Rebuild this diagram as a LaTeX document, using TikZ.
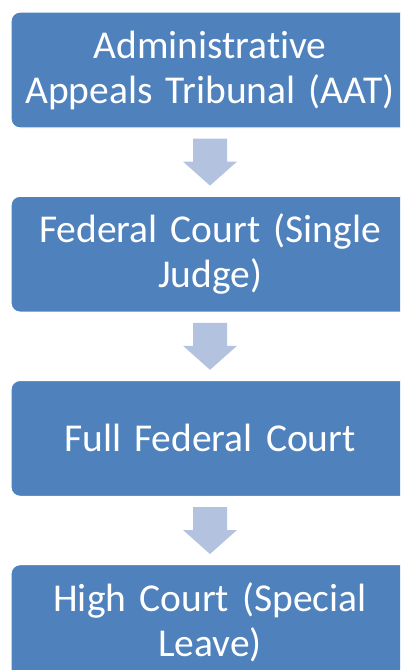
\documentclass[tikz,border=0pt]{standalone}
\usepackage{fontspec}
\setmainfont[Ligatures=NoCommon, WordSpace=0.9]{Carlito}
\usepackage{tikz}
\usetikzlibrary{positioning, calc}

\definecolor{courtblue}{RGB}{79,129,189}
\definecolor{arrowblue}{RGB}{179,195,223}

\begin{document}
\begin{tikzpicture}[
    x=1pt, y=1pt,
    court/.style={draw=white, line width=1.2pt, fill=courtblue, rounded corners=9pt,
        minimum width=398pt, minimum height=116pt, inner sep=0pt,
        text width=390pt, align=center, text=white,
        font=\fontsize{39.5pt}{45pt}\selectfont},
    flowarrow/.style={fill=arrowblue}
]
    \clip (0,0) rectangle (400,-670);
    \node[court] (aat) at (210,-70) {Administrative\\Appeals Tribunal (AAT)};
    \node[court, below=67pt of aat] (fcs) {Federal Court (Single\\Judge)};
    \node[court, below=67pt of fcs] (ffc) {Full Federal Court};
    \node[court, below=67pt of ffc] (hca) {High Court (Special\\Leave)};
    % block arrows between the courts
    \foreach \a/\b in {aat/fcs, fcs/ffc, ffc/hca}
        \fill[flowarrow] ($(\a.south)+(-17,-10)$) -- ($(\a.south)+(17,-10)$)
            -- ($(\b.north)+(17,34)$) -- ($(\b.north)+(27,34)$)
            -- ($(\b.north)+(0,10)$) -- ($(\b.north)+(-27,34)$)
            -- ($(\b.north)+(-17,34)$) -- cycle;
\end{tikzpicture}
\end{document}
